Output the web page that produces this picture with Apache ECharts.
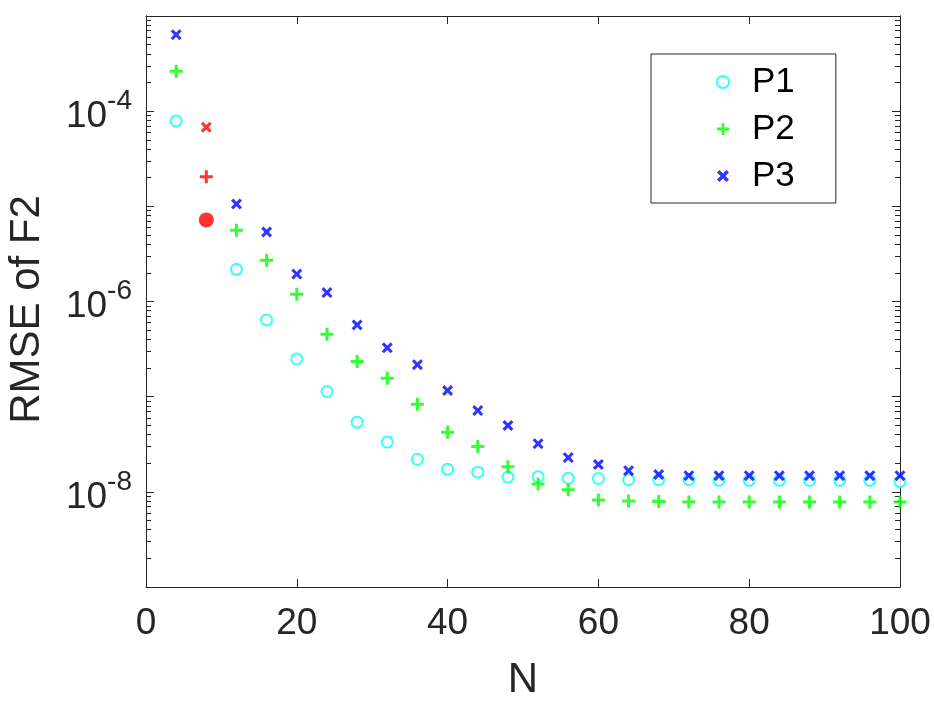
<!DOCTYPE html>
<html lang="en">
<head>
    <meta charset="UTF-8">
    <title>RMSE of F2</title>
    <script src="https://cdn.jsdelivr.net/npm/echarts@6/dist/echarts.min.js"></script>
    <style>
        html, body { margin: 0; padding: 0; background: #fff; }
        #container { width: 934px; height: 708px; }
    </style>
</head>
<body>
<div id="container"></div>
<script type="text/javascript">
    // N values on the x axis
    let nValues = [4, 8, 12, 16, 20, 24, 28, 32, 36, 40, 44, 48, 52, 56, 60, 64, 68, 72, 76, 80, 84, 88, 92, 96, 100];
    // RMSE
    let p1 = [7.9e-5, 7.2e-6, 2.18e-6, 6.4e-7, 2.49e-7, 1.13e-7, 5.4e-8, 3.33e-8, 2.2e-8, 1.73e-8, 1.61e-8, 1.43e-8, 1.44e-8,
              1.39e-8, 1.38e-8, 1.34e-8, 1.34e-8, 1.34e-8, 1.32e-8, 1.32e-8, 1.32e-8, 1.32e-8, 1.32e-8, 1.32e-8, 1.28e-8];
    let p2 = [2.62e-4, 2.05e-5, 5.6e-6, 2.72e-6, 1.19e-6, 4.53e-7, 2.34e-7, 1.56e-7, 8.3e-8, 4.24e-8, 2.99e-8, 1.83e-8, 1.21e-8,
              1.05e-8, 8.2e-9, 8.0e-9, 7.9e-9, 7.8e-9, 7.8e-9, 7.8e-9, 7.8e-9, 7.8e-9, 7.8e-9, 7.8e-9, 7.8e-9];
    let p3 = [6.37e-4, 6.78e-5, 1.06e-5, 5.38e-6, 1.94e-6, 1.24e-6, 5.68e-7, 3.26e-7, 2.17e-7, 1.16e-7, 7.14e-8, 4.97e-8, 3.21e-8,
              2.29e-8, 1.94e-8, 1.67e-8, 1.52e-8, 1.48e-8, 1.48e-8, 1.48e-8, 1.48e-8, 1.48e-8, 1.48e-8, 1.48e-8, 1.48e-8];
    let highlightN = 8;   // drawn in red
    let xTicks = [0, 20, 40, 60, 80, 100];
    let yLabelTicks = [1e-8, 1e-6, 1e-4];
    let yMajorTicks = [1e-9, 1e-8, 1e-7, 1e-6, 1e-5, 1e-4, 1e-3];

    // minor ticks 2..9 in every decade
    let yMinorTicks = [];
    for (let e = -9; e < -3; e++) {
        for (let k = 2; k <= 9; k++) {
            yMinorTicks.push(k * Math.pow(10, e));
        }
    }

    let textColor = '#262626';
    let fontName = 'Liberation Sans';
    let plusPath = 'path://M5,0H8V5H13V8H8V13H5V8H0V5H5Z';
    let crossPath = 'path://M0,2L2,0L5,3L8,0L10,2L7,5L10,8L8,10L5,7L2,10L0,8L3,5Z';

    let makeData = function(values, redStyle){
        let out = [];
        for (let i = 0; i < nValues.length; i++) {
            let item = {value: [nValues[i], values[i]]};
            if (nValues[i] === highlightN) {
                Object.assign(item, redStyle);
            }
            out.push(item);
        }
        return out;
    };

    let yAxisBase = function(position, ticks, len, showLabel){
        return {
            type: 'log',
            logBase: 10,
            min: 1e-9,
            max: 1e-3,
            position: position,
            axisLine: {show: true, lineStyle: {color: textColor, width: 1}},
            axisTick: {show: true, inside: true, length: len, customValues: ticks,
                       lineStyle: {color: textColor, width: 1}},
            splitLine: {show: false},
            axisLabel: showLabel ? {
                show: true,
                customValues: yLabelTicks,
                margin: 14,
                color: textColor,
                fontFamily: fontName,
                formatter: function(v){
                    let e = Math.round(Math.log10(v));
                    return '{b|10}{s|' + e + '}';
                },
                rich: {
                    b: {fontSize: 37, fontFamily: fontName, color: textColor, verticalAlign: 'bottom'},
                    s: {fontSize: 28, fontFamily: fontName, color: textColor, verticalAlign: 'bottom', padding: [0, 0, 20, 0]}
                }
            } : {show: false}
        };
    };

    let dom = document.getElementById("container");
    let myChart = echarts.init(dom);
    let option = {
        backgroundColor: '#fff',
        animation: false,
        grid: {left: 146, right: 34, top: 16, bottom: 121, containLabel: false, outerBoundsMode: 'none'},
        legend: {
            orient: 'vertical',
            left: 651,
            top: 54,
            data: ['P1', 'P2', 'P3'],
            itemWidth: 12,
            itemHeight: 12,
            itemGap: 7,
            padding: [8, 41, 7, 65],
            borderColor: textColor,
            borderWidth: 1,
            backgroundColor: '#fff',
            textStyle: {fontSize: 35, fontFamily: fontName, color: '#000', lineHeight: 40, padding: [0, 0, 0, 18]}
        },
        xAxis: [
            {
                type: 'value',
                min: 0,
                max: 100,
                interval: 20,
                position: 'bottom',
                name: 'N',
                nameLocation: 'middle',
                nameGap: 72,
                nameTextStyle: {fontSize: 42, fontFamily: fontName, color: textColor},
                axisLine: {show: true, lineStyle: {color: textColor, width: 1}},
                axisTick: {show: true, inside: true, length: 8, customValues: xTicks, lineStyle: {color: textColor}},
                splitLine: {show: false},
                axisLabel: {fontSize: 37, fontFamily: fontName, color: textColor, margin: 18, customValues: xTicks}
            },
            {
                type: 'value',
                min: 0,
                max: 100,
                interval: 20,
                position: 'top',
                axisLine: {show: true, lineStyle: {color: textColor, width: 1}},
                axisTick: {show: true, inside: true, length: 8, customValues: xTicks, lineStyle: {color: textColor}},
                splitLine: {show: false},
                axisLabel: {show: false}
            }
        ],
        yAxis: [
            Object.assign(yAxisBase('left', yMajorTicks, 8, true), {
                name: 'RMSE of F2',
                nameLocation: 'middle',
                nameGap: 98,
                nameTextStyle: {fontSize: 42, fontFamily: fontName, color: textColor, padding: [0, 16, 0, 0]}
            }),
            yAxisBase('left', yMinorTicks, 5, false),
            yAxisBase('right', yMajorTicks, 8, false),
            yAxisBase('right', yMinorTicks, 5, false)
        ],
        series: [
            {
                name: 'P1',
                type: 'scatter',
                symbol: 'emptyCircle',
                symbolSize: 11,
                itemStyle: {color: '#00FFFF', borderWidth: 3.2},
                data: makeData(p1, {symbol: 'circle', symbolSize: 15,
                    itemStyle: {color: '#FF0000', borderColor: '#FF0000', borderWidth: 0}})
            },
            {
                name: 'P2',
                type: 'scatter',
                symbol: plusPath,
                symbolSize: 13,
                itemStyle: {color: '#00FF00'},
                data: makeData(p2, {itemStyle: {color: '#FF0000'}})
            },
            {
                name: 'P3',
                type: 'scatter',
                symbol: crossPath,
                symbolSize: 11,
                itemStyle: {color: '#0000FF'},
                data: makeData(p3, {itemStyle: {color: '#FF0000'}})
            }
        ]
    };
    myChart.setOption(option);
</script>
</body>
</html>
